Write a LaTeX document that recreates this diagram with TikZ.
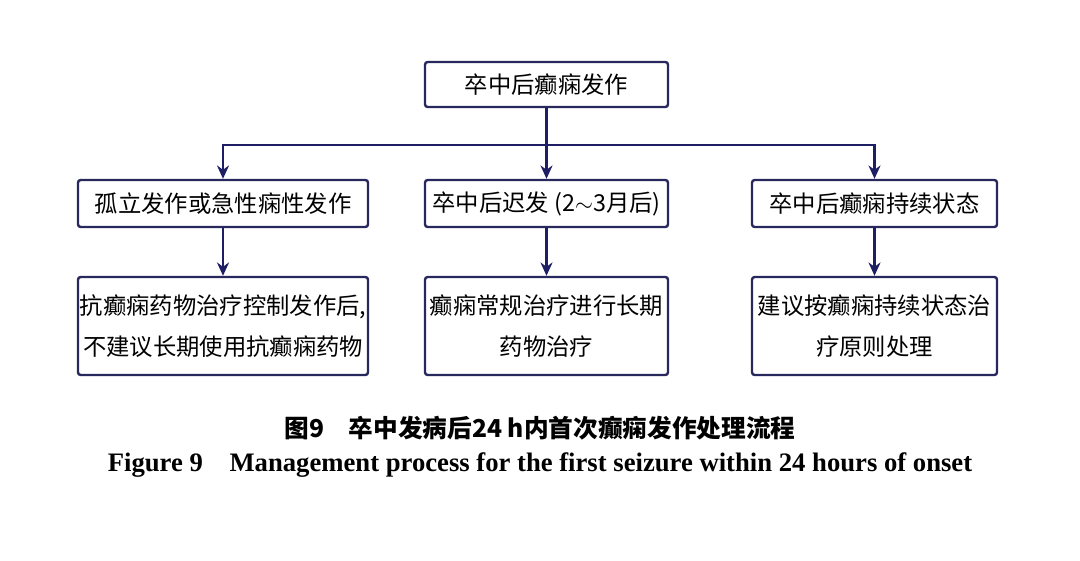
\documentclass[tikz,border=0pt]{standalone}
\usepackage{fontspec}
\setmainfont{Liberation Serif}
\newfontfamily\cjk{Noto Sans CJK SC}
\usetikzlibrary{arrows.meta,positioning}
\definecolor{navy}{RGB}{40,40,95}
\definecolor{arrowc}{RGB}{30,30,100}
\begin{document}
\begin{tikzpicture}[x=0.75pt,y=-0.75pt,
  box/.style={draw=navy,line width=1.8pt,rounded corners=2pt,align=center,
    font=\cjk\fontsize{17.5}{31}\selectfont,inner sep=0pt},
  head/.style={box,minimum width=243*0.75pt,minimum height=45*0.75pt},
  wide/.style={box,minimum width=290*0.75pt,minimum height=47*0.75pt},
  mid/.style={box,minimum width=243*0.75pt,minimum height=47*0.75pt},
  tall/.style={box,minimum height=98*0.75pt},
  link/.style={draw=arrowc,line width=2pt,-{Stealth[length=10pt,width=9pt]}}]
  \useasboundingbox (0,0) rectangle (1080,560);
  % top
  \node[head] (ONSET) at (546.5,84.5) {卒中后癫痫发作};
  % second row
  \node[wide] (ISOL) at (223,203.5) {孤立发作或急性痫性发作};
  \node[mid] (LATE) at (546.5,203.5) {卒中后迟发 (2$\sim$3月后)};
  \node[box,minimum width=245*0.75pt,minimum height=47*0.75pt] (STAT) at (874.5,203.5) {卒中后癫痫持续状态};
  % third row
  \node[tall,minimum width=290*0.75pt] (ISOLT) at (223,326) {抗癫痫药物治疗控制发作后,\\不建议长期使用抗癫痫药物};
  \node[tall,minimum width=243*0.75pt] (LATET) at (546.5,326) {癫痫常规治疗进行长期\\药物治疗};
  \node[tall,minimum width=245*0.75pt] (STATT) at (874.5,326) {建议按癫痫持续状态治\\疗原则处理};
  % links
  \coordinate (split) at (546.5,145);
  \draw[draw=arrowc,line width=2pt] (ONSET.south) -- (split);
  \path[link] (split) -| (ISOL.north);
  \path[link] (split) -- (LATE.north);
  \path[link] (split) -| (STAT.north);
  \path[link] (ISOL) -- (ISOLT);
  \path[link] (LATE) -- (LATET);
  \path[link] (STAT) -- (STATT);
  % caption
  \node[font=\cjk\bfseries\fontsize{18.5}{22}\selectfont] (CAPZH) at (540,428) {图9\quad 卒中发病后24 h内首次癫痫发作处理流程};
  \node[font=\bfseries\fontsize{20}{24}\selectfont] (CAPEN) at (540,465) {Figure 9\quad Management process for the first seizure within 24 hours of onset};
\end{tikzpicture}
\end{document}
